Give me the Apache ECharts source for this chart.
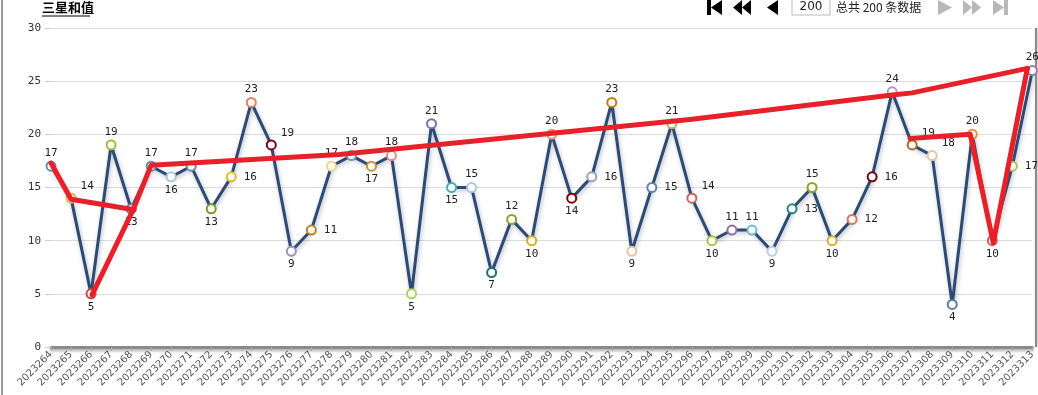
<!DOCTYPE html>
<html>
<head>
<meta charset="utf-8">
<script src="https://cdn.jsdelivr.net/npm/echarts@6/dist/echarts.min.js"></script>
<style>
html,body{margin:0;padding:0;background:#fff;}
#c{width:1038px;height:395px;}
</style>
</head>
<body>
<div id="c"></div>
<script>
// ---- data ----
var categories = [
  '2023264','2023265','2023266','2023267','2023268','2023269','2023270','2023271','2023272','2023273',
  '2023274','2023275','2023276','2023277','2023278','2023279','2023280','2023281','2023282','2023283',
  '2023284','2023285','2023286','2023287','2023288','2023289','2023290','2023291','2023292','2023293',
  '2023294','2023295','2023296','2023297','2023298','2023299','2023300','2023301','2023302','2023303',
  '2023304','2023305','2023306','2023307','2023308','2023309','2023310','2023311','2023312','2023313'
];
var sumValues = [
  17,14,5,19,13,17,16,17,13,16,
  23,19,9,11,17,18,17,18,5,21,
  15,15,7,12,10,20,14,16,23,9,
  15,21,14,10,11,11,9,13,15,10,
  12,16,24,19,18,4,20,10,17,26
];
var yTicks = [0, 30, 5];
var titleText = '三星和值';
var pageValue = '200';
var totalText = '总共 200 条数据';
// hand-drawn red annotation strokes: [category index, value]
var redStrokeA = [[0,17.3],[1,13.9],[4.15,12.9]];
var redStrokeB = [[2.05,4.9],[4.1,12.9],[5,17.1],[14.4,18.1],[31.9,21.4],[42,23.7],[43,23.9],[48.75,26.2]];
var redStrokeC = [[42.9,19.6],[45.9,20.0],[47.05,9.8],[48.75,26.2]];

// ---- styles ----
var markerColors = [
  '#6a8ab5','#e8b04a','#c84a4a','#a8b83a','#5a7aa0','#6a8a9a','#a9c8e0','#6b8a9a','#7a9a2a','#e0c020',
  '#e08060','#800020','#a090c0','#c08020','#e8d890','#8090b0','#d09030','#e09090','#b0d060','#8070a0',
  '#40b0c0','#b0c8d8','#207070','#90a030','#d0b020','#e89070','#800000','#a0a0c0','#c08010','#e0c8a0',
  '#6080b0','#e0a060','#d06060','#b0c040','#9070a0','#70b8c8','#b8d0e8','#308080','#90a020','#d0b030',
  '#e07060','#700010','#a0a0c8','#a07020','#e0c8a8','#5a80a8','#e89030','#d06060','#b0c060','#9080b0'
];
var labelPos = [
  't','tr','b','t','b','t','b','t','b','r',
  't','tr','b','r','t','t','b','t','b','t',
  'b','t','b','t','b','t','b','r','t','b',
  'r','t','tr','b','t','t','b','r','t','b',
  'r','r','t','tr','tr','b','t','b','r','t'
];

function labelFor(p){
  if(p==='t') return {position:'top',distance:2};
  if(p==='b') return {position:'bottom',distance:2};
  if(p==='r') return {position:'right',distance:7};
  return {position:'right',distance:4,offset:[0,-12]};
}

var mainData = sumValues.map(function(v,i){
  return {
    value: v,
    itemStyle: {color:'#ffffff', borderColor: markerColors[i], borderWidth: 2},
    label: labelFor(labelPos[i])
  };
});

var chart = echarts.init(document.getElementById('c'), null, {renderer:'canvas'});
var labelFont = 'DejaVu Sans Mono';
var redStyle = {color:'#e8202a', width:5, cap:'round', join:'round'};
function redSeries(d){
  return {
    type:'line', xAxisIndex:1, data:d, symbol:'none', silent:true, z:5,
    lineStyle: redStyle, animation:false
  };
}

chart.setOption({
  animation:false,
  grid:{left:51,right:5,top:28,bottom:48,show:false},
  xAxis:[{
    type:'category',
    data:categories,
    boundaryGap:false,
    axisLine:{show:true,lineStyle:{color:'#8a8a8a',width:3,shadowColor:'rgba(0,0,0,0.35)',shadowBlur:3,shadowOffsetY:2}},
    axisTick:{show:true,alignWithLabel:true,length:4,lineStyle:{color:'#aaa'}},
    axisLabel:{rotate:45,fontSize:10,color:'#555',fontFamily:'DejaVu Sans',margin:6,interval:0},
    splitLine:{show:false}
  },{
    type:'value', min:0, max:categories.length-1, show:false
  }],
  yAxis:{
    type:'value',min:yTicks[0],max:yTicks[1],interval:yTicks[2],
    axisLine:{show:false},
    axisTick:{show:true,inside:false,length:6,lineStyle:{color:'#ccc'}},
    axisLabel:{fontSize:11,color:'#333',fontFamily:labelFont,margin:10},
    splitLine:{show:true,lineStyle:{color:'#dcdcdc',width:1}}
  },
  series:[{
    type:'line',
    data:mainData,
    symbol:'circle',
    symbolSize:9,
    z:3,
    lineStyle:{color:'#2c4a72',width:3,shadowColor:'rgba(40,60,100,0.35)',shadowBlur:4,shadowOffsetX:1,shadowOffsetY:2},
    label:{show:true,fontSize:11,color:'#222',fontFamily:labelFont},
    emphasis:{disabled:true}
  },
  redSeries(redStrokeA), redSeries(redStrokeB), redSeries(redStrokeC)
  ],
  graphic:[
    {type:'line',shape:{x1:2,y1:0,x2:2,y2:395},style:{stroke:'#9a9a9a',lineWidth:2},silent:true},
    {type:'line',shape:{x1:1036,y1:28,x2:1036,y2:347},style:{stroke:'#8a8a8a',lineWidth:2,shadowColor:'rgba(0,0,0,0.3)',shadowBlur:3,shadowOffsetX:1},silent:true},
    {type:'text',left:42,top:1,style:{text:titleText,font:'bold 13px "Noto Sans CJK SC"',fill:'#000'}},
    {type:'line',shape:{x1:42,y1:16,x2:90,y2:16},style:{stroke:'#000',lineWidth:1}},
    // first
    {type:'rect',shape:{x:707,y:0,width:4,height:15},style:{fill:'#000'}},
    {type:'polygon',shape:{points:[[722,0],[722,15],[711,7.5]]},style:{fill:'#000'}},
    // prev page
    {type:'polygon',shape:{points:[[742,0],[742,15],[733,7.5]]},style:{fill:'#000'}},
    {type:'polygon',shape:{points:[[751,0],[751,15],[742,7.5]]},style:{fill:'#000'}},
    // prev
    {type:'polygon',shape:{points:[[778,0],[778,15],[767,7.5]]},style:{fill:'#000'}},
    // input box
    {type:'rect',shape:{x:792,y:-2,width:38,height:17},style:{fill:'#fff',stroke:'#bbb',lineWidth:1}},
    {type:'text',x:811,y:7,style:{text:pageValue,font:'12px "DejaVu Sans"',fill:'#222',textAlign:'center',textVerticalAlign:'middle'}},
    {type:'text',x:836,y:7,style:{text:totalText,font:'12px "Noto Sans CJK SC"',fill:'#222',textAlign:'left',textVerticalAlign:'middle'}},
    // next
    {type:'polygon',shape:{points:[[938,0],[938,15],[952,7.5]]},style:{fill:'#b8b8b8'}},
    // next page
    {type:'polygon',shape:{points:[[963,0],[963,15],[972,7.5]]},style:{fill:'#b8b8b8'}},
    {type:'polygon',shape:{points:[[972,0],[972,15],[981,7.5]]},style:{fill:'#b8b8b8'}},
    // last
    {type:'polygon',shape:{points:[[993,0],[993,15],[1004,7.5]]},style:{fill:'#b8b8b8'}},
    {type:'rect',shape:{x:1004,y:0,width:4,height:15},style:{fill:'#b8b8b8'}}
  ]
});
</script>
</body>
</html>
